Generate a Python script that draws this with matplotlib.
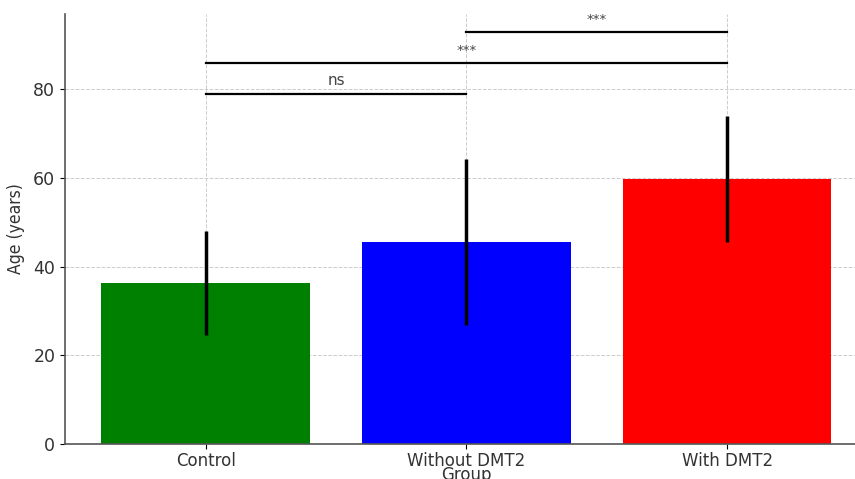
import matplotlib
matplotlib.use("Agg")
import matplotlib.pyplot as plt
import numpy as np

groups = ["Control", "Without DMT2", "With DMT2"]
mean_age = [36.3, 45.6, 59.7]
sd_age = [11.7, 18.7, 14.2]
bar_colors = ["green", "blue", "red"]

# pairwise comparisons: (group a, group b, bracket height, label)
comparisons = [(0, 1, 79, "ns"), (0, 2, 86, "***"), (1, 2, 93, "***")]

fig = plt.figure(figsize=(8.55, 4.79), dpi=100)
ax = fig.add_axes([0.076, 0.073, 0.939, 0.898])

x = np.arange(len(groups))
ax.bar(x, mean_age, width=0.8, color=bar_colors, zorder=2)
ax.errorbar(x, mean_age, yerr=sd_age, fmt="none", ecolor="black",
            elinewidth=2.5, capsize=0, zorder=3)

for a, b, h, label in comparisons:
    ax.plot([x[a], x[b]], [h, h], color="black", lw=1.6, zorder=3)
    ax.text((x[a] + x[b]) / 2, h + 1.3, label, ha="center", va="bottom",
            fontsize=11 if label == "ns" else 9.5, color="#444444")

ax.set_xticks(x)
ax.set_xticklabels(groups, fontsize=12, color="#333333")
ax.set_yticks([0, 20, 40, 60, 80])
ax.tick_params(axis="y", labelsize=12.5, labelcolor="#333333")
ax.tick_params(axis="x", pad=2)
ax.set_xlim(-0.54, 2.54)
ax.set_ylim(0, 97)
ax.set_xlabel("Group", fontsize=12, color="#333333", labelpad=-3)
ax.set_ylabel("Age (years)", fontsize=12.5, color="#333333",
              fontstretch="condensed", labelpad=6)

ax.grid(True, linestyle="--", color="#cccccc", linewidth=0.7, zorder=0)
ax.set_axisbelow(True)
for side in ["top", "right"]:
    ax.spines[side].set_visible(False)
for side in ["left", "bottom"]:
    ax.spines[side].set_color("#555555")
    ax.spines[side].set_linewidth(1.2)

fig.savefig("out.png", dpi=100)
